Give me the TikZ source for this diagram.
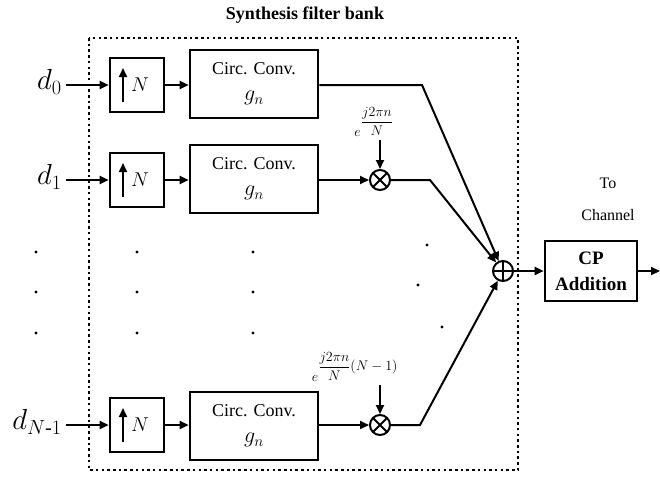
\RequirePackage{fix-cm}
\documentclass[tikz,border=0pt]{standalone}
\usepackage{amsmath}
\usepackage{fontspec}
\setmainfont{Liberation Serif}
\usetikzlibrary{arrows.meta}

\begin{document}
\begin{tikzpicture}[x=1pt,y=-1pt,line width=2pt,
    >={Triangle[length=9pt,width=8pt]},
    conv/.style={draw,line width=2.6pt,minimum width=128pt,minimum height=68pt,
      align=center,font=\fontsize{18}{26}\selectfont},
    upsmp/.style={draw,line width=2.6pt,minimum width=54pt,minimum height=54pt,
      inner sep=0pt,font=\fontsize{20}{22}\selectfont,
      path picture={\draw[->,line width=2pt]
        ([xshift=-14pt,yshift=-17pt]path picture bounding box.center) -- ++(0pt,34pt);}},
    mult/.style={draw,circle,minimum size=20pt,inner sep=0pt,
      path picture={\draw (path picture bounding box.north west) -- (path picture bounding box.south east)
        (path picture bounding box.north east) -- (path picture bounding box.south west);}},
    adder/.style={draw,circle,minimum size=20pt,inner sep=0pt,
      path picture={\draw (path picture bounding box.north) -- (path picture bounding box.south)
        (path picture bounding box.east) -- (path picture bounding box.west);}},
    sym/.style={anchor=east,font=\fontsize{29}{30}\selectfont},
    expo/.style={font=\fontsize{14}{16}\selectfont}]
    \useasboundingbox (0,0) rectangle (660,477);
    % filter bank frame
    \draw[line width=2.5pt,dash pattern=on 2.5pt off 3.2pt] (89,38) rectangle (518,470);
    \node[font=\bfseries\fontsize{18}{20}\selectfont] (title) at (305,15) {Synthesis filter bank};
    % branches
    \node[sym] (d0) at (66,82) {$d_0$};
    \node[sym] (d1) at (66,177) {$d_1$};
    \node[sym] (dN) at (66,422) {$d_{N\text{-}1}$};
    \node[upsmp] (up0) at (137,85) {\hspace{6pt}$N$};
    \node[upsmp] (up1) at (137,180) {\hspace{6pt}$N$};
    \node[upsmp] (upN) at (137,425) {\hspace{6pt}$N$};
    \node[conv] (cv0) at (254,84) {Circ. Conv.\\{\fontsize{22}{26}\selectfont$g_n$}};
    \node[conv] (cv1) at (254,179) {Circ. Conv.\\{\fontsize{22}{26}\selectfont$g_n$}};
    \node[conv] (cvN) at (254,426) {Circ. Conv.\\{\fontsize{22}{26}\selectfont$g_n$}};
    \node[mult] (m1) at (380,180) {};
    \node[mult] (mN) at (380,425) {};
    \node[expo] (e1) at (374,122) {$e^{\dfrac{j2\pi n}{N}}$};
    \node[expo] (eN) at (355,367) {$e^{\dfrac{j2\pi n}{N}\textstyle(N-1)}$};
    \node[adder] (sum) at (503,271) {};
    \node[conv,minimum width=92pt,minimum height=60pt,font=\bfseries\fontsize{19}{26}\selectfont]
      (cp) at (591,271) {CP\\Addition};
    \node[align=center,font=\fontsize{16}{32}\selectfont] (ch) at (608,199) {To\\Channel};
    \coordinate (k0) at (422,85);
    \coordinate (k1) at (430,180);
    \coordinate (kN) at (420,425);
    \coordinate (out) at (660,271);
    % connections
    \draw[->] (d0.east |- up0) -- (up0);
    \draw[->] (d1.east |- up1) -- (up1);
    \draw[->] (dN.east |- upN) -- (upN);
    \draw[->] (up0) -- (cv0.west |- up0);
    \draw[->] (up1) -- (cv1.west |- up1);
    \draw[->] (upN) -- (cvN.west |- upN);
    \draw[->] (cv0.east |- k0) -- (k0) -- (sum);
    \draw[->] (cv1.east |- m1) -- (m1);
    \draw[->] (cvN.east |- mN) -- (mN);
    \draw[->] (m1) -- (k1) -- (sum);
    \draw[->] (mN) -- (kN) -- (sum);
    \draw[->] (m1 |- 0,140) -- (m1);
    \draw[->] (mN |- 0,385) -- (mN);
    \draw[->] (sum) -- (cp);
    \draw[->] (cp) -- (out);
    % continuation dots
    \foreach \px in {36,137,253}
      \foreach \py in {252,292,333}
        \fill (\px,\py) circle (1.6pt);
    \foreach \px/\py in {427/245,418/285,442/327}
      \fill (\px,\py) circle (1.6pt);
  \end{tikzpicture}
\end{document}
